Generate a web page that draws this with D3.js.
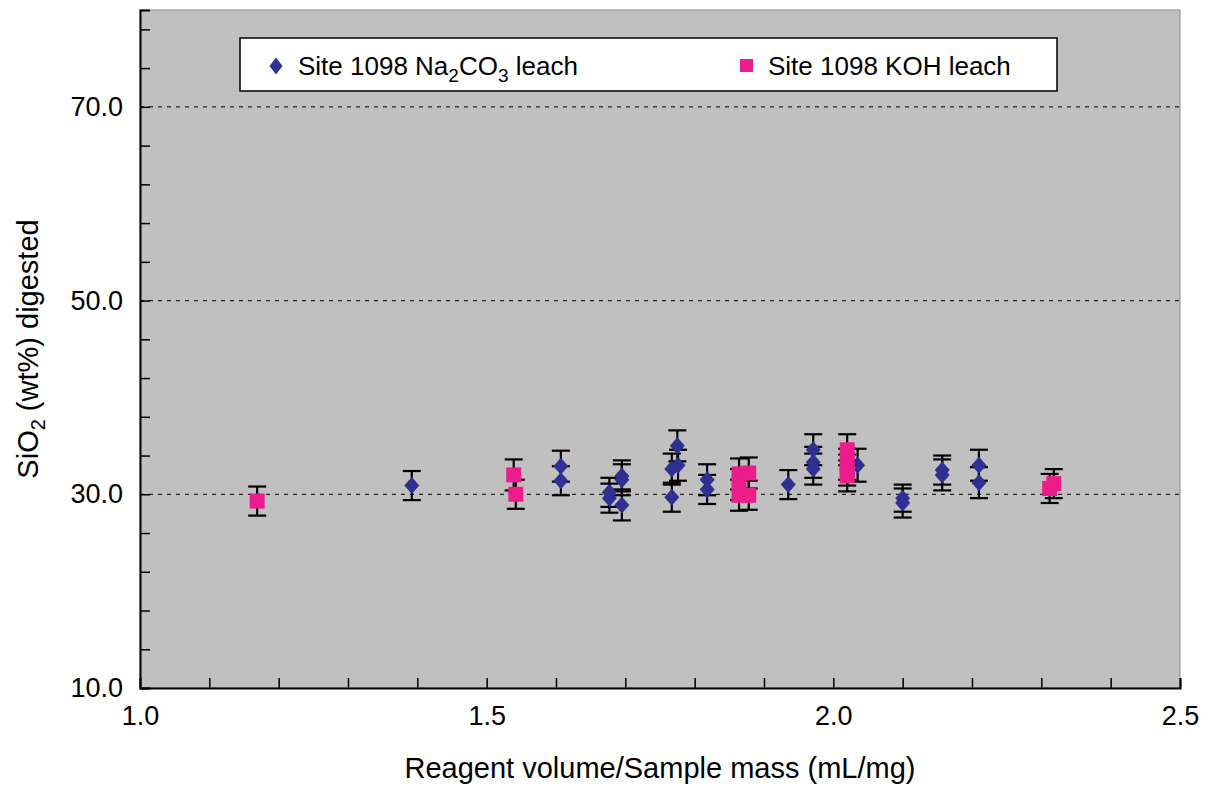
<!DOCTYPE html>
<html>
<head>
<meta charset="utf-8">
<script src="https://cdn.jsdelivr.net/npm/d3@7"></script>
<style>
  body { margin: 0; background: #fff; }
  text { font-family: "Liberation Sans", Arial, Helvetica, sans-serif; fill: #000; }
</style>
</head>
<body>
<svg id="chart" width="1213" height="791"></svg>
<script>
// Site 1098 Na2CO3 leach (x = reagent volume / sample mass, y = SiO2 wt%, err = +/-)
const naX = [1.392, 1.607, 1.607, 1.677, 1.677, 1.695, 1.695, 1.695, 1.767, 1.767, 1.775, 1.776,
  1.818, 1.818, 1.935, 1.971, 1.971, 1.971, 2.035, 2.100, 2.100, 2.157, 2.157, 2.210, 2.210];
const naY = [30.9, 32.9, 31.4, 30.2, 29.6, 31.9, 31.5, 28.9, 32.6, 29.7, 35.0, 33.0,
  31.5, 30.5, 31.0, 34.6, 33.3, 32.6, 33.0, 29.6, 29.1, 32.5, 32.0, 33.0, 31.2];
const naErr = [1.5, 1.6, 1.5, 1.5, 1.5, 1.6, 1.6, 1.6, 1.6, 1.5, 1.6, 1.6,
  1.6, 1.5, 1.5, 1.6, 1.6, 1.6, 1.7, 1.4, 1.5, 1.5, 1.6, 1.6, 1.6];

// Site 1098 KOH leach
const kohX = [1.169, 1.539, 1.542, 1.864, 1.864, 1.864, 1.878, 1.878, 2.020, 2.020, 2.020, 2.020, 2.312, 2.318];
const kohY = [29.3, 32.0, 30.0, 32.1, 31.0, 29.9, 32.2, 29.9, 34.6, 33.1, 32.5, 31.9, 30.6, 31.1];
const kohErr = [1.5, 1.6, 1.5, 1.6, 1.6, 1.6, 1.6, 1.5, 1.6, 1.6, 1.6, 1.6, 1.5, 1.5];

const xTickLabels = [1.0, 1.5, 2.0, 2.5];
const yTickLabels = [10, 30, 50, 70];
const yGrid = [30, 50, 70];

const svg = d3.select("#chart");
const margin = { top: 10, right: 33, bottom: 103, left: 140 };
const width = +svg.attr("width") - margin.left - margin.right;
const height = +svg.attr("height") - margin.top - margin.bottom;

const g = svg.append("g")
  .attr("transform", "translate(" + margin.left + "," + margin.top + ")");

const x = d3.scaleLinear().domain([1.0, 2.5]).range([0, width]);
const y = d3.scaleLinear().domain([10, 80]).range([height, 0]);

// plot background
g.append("rect")
  .attr("width", width)
  .attr("height", height)
  .attr("fill", "#c0c0c0")
  .attr("stroke", "#8a8a8a")
  .attr("stroke-width", 1);

// dashed grid lines
g.selectAll(".grid")
  .data(yGrid)
  .enter()
  .append("line")
  .attr("x1", 0)
  .attr("x2", width)
  .attr("y1", (d) => y(d))
  .attr("y2", (d) => y(d))
  .attr("stroke", "#222")
  .attr("stroke-width", 1.2)
  .attr("stroke-dasharray", "4,5");

// axes: ticks drawn inward, labels only on major values
const xAxis = d3.axisBottom(x)
  .tickValues(d3.range(10, 26).map((d) => d / 10))
  .tickSize(-10)
  .tickFormat((d) => (xTickLabels.some((v) => Math.abs(v - d) < 1e-6) ? d3.format(".1f")(d) : ""));

const gx = g.append("g")
  .attr("transform", "translate(0," + height + ")")
  .call(xAxis);
gx.select(".domain").attr("stroke", "#000").attr("stroke-width", 2);
gx.selectAll(".tick line").attr("stroke", "#000").attr("stroke-width", 1.5);
gx.selectAll(".tick text")
  .attr("y", 18)
  .attr("dy", "0.71em")
  .style("font-size", "27px");

const yAxis = d3.axisLeft(y)
  .tickValues(d3.range(10, 81, 4))
  .tickSize(-10)
  .tickFormat((d) => (yTickLabels.includes(d) ? d3.format(".1f")(d) : ""));

const gy = g.append("g").call(yAxis);
gy.select(".domain").attr("stroke", "#000").attr("stroke-width", 2);
gy.selectAll(".tick line").attr("stroke", "#000").attr("stroke-width", 1.5);
gy.selectAll(".tick text")
  .attr("x", -17)
  .style("font-size", "27px");

// error bars
function drawErrors(xs, ys, errs, cls) {
  const eb = g.append("g").attr("class", cls);
  xs.forEach(function (xv, i) {
    const cx = x(xv);
    const top = y(ys[i] + errs[i]);
    const bot = y(ys[i] - errs[i]);
    eb.append("line").attr("x1", cx).attr("x2", cx).attr("y1", top).attr("y2", bot);
    eb.append("line").attr("x1", cx - 9).attr("x2", cx + 9).attr("y1", top).attr("y2", top);
    eb.append("line").attr("x1", cx - 9).attr("x2", cx + 9).attr("y1", bot).attr("y2", bot);
  });
  eb.selectAll("line").attr("stroke", "#000").attr("stroke-width", 2.2);
}

const diamond = (cx, cy, w, h) =>
  "M" + cx + "," + (cy - h) + "L" + (cx + w) + "," + cy + "L" + cx + "," + (cy + h) + "L" + (cx - w) + "," + cy + "Z";

drawErrors(naX, naY, naErr, "na-err");

g.append("g")
  .selectAll("path")
  .data(naX.map((d, i) => ({ x: d, y: naY[i] })))
  .enter()
  .append("path")
  .attr("d", (d) => diamond(x(d.x), y(d.y), 7.5, 8.5))
  .attr("fill", "#2e3192");

drawErrors(kohX, kohY, kohErr, "koh-err");

g.append("g")
  .selectAll("rect")
  .data(kohX.map((d, i) => ({ x: d, y: kohY[i] })))
  .enter()
  .append("rect")
  .attr("x", (d) => x(d.x) - 7.5)
  .attr("y", (d) => y(d.y) - 7.5)
  .attr("width", 15)
  .attr("height", 15)
  .attr("fill", "#ec1c8c");

// legend
const legend = g.append("g").attr("transform", "translate(100,28)");
legend.append("rect")
  .attr("width", 817)
  .attr("height", 53)
  .attr("fill", "#fff")
  .attr("stroke", "#000")
  .attr("stroke-width", 1.5);

legend.append("path")
  .attr("d", diamond(36, 28, 6.5, 8.5))
  .attr("fill", "#2e3192");

const t1 = legend.append("text")
  .attr("x", 58)
  .attr("y", 37)
  .style("font-size", "26px");
t1.append("tspan").text("Site 1098 Na");
t1.append("tspan").attr("dy", 7).style("font-size", "19px").text("2");
t1.append("tspan").attr("dy", -7).text("CO");
t1.append("tspan").attr("dy", 7).style("font-size", "19px").text("3");
t1.append("tspan").attr("dy", -7).text(" leach");

legend.append("rect")
  .attr("x", 500)
  .attr("y", 21)
  .attr("width", 13)
  .attr("height", 13)
  .attr("fill", "#ec1c8c");

legend.append("text")
  .attr("x", 528)
  .attr("y", 37)
  .style("font-size", "26px")
  .text("Site 1098 KOH leach");

// axis titles
svg.append("text")
  .attr("x", margin.left + width / 2)
  .attr("y", 778)
  .style("text-anchor", "middle")
  .style("font-size", "29px")
  .text("Reagent volume/Sample mass (mL/mg)");

const yt = svg.append("text")
  .attr("transform", "translate(38," + (margin.top + height / 2) + ") rotate(-90)")
  .style("text-anchor", "middle")
  .style("font-size", "29px");
yt.append("tspan").text("SiO");
yt.append("tspan").attr("dy", 7).style("font-size", "20px").text("2");
yt.append("tspan").attr("dy", -7).text(" (wt%) digested");
</script>
</body>
</html>
